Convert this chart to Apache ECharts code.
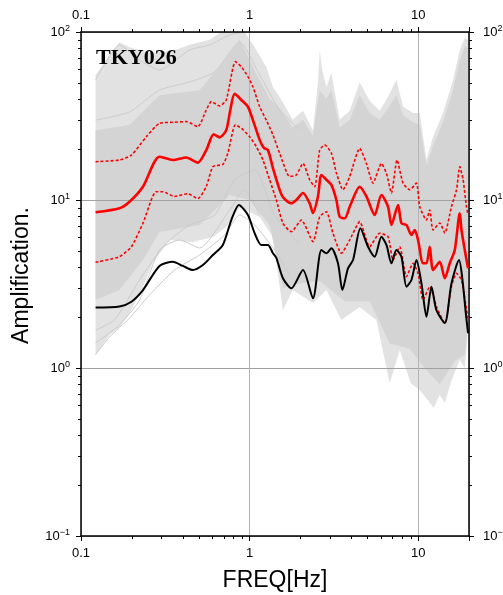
<!DOCTYPE html>
<html><head><meta charset="utf-8">
<script src="https://cdn.jsdelivr.net/npm/echarts@6/dist/echarts.min.js"></script>
<style>html,body{margin:0;padding:0;background:#fff}#c{width:503px;height:595px}</style>
</head><body><div id="c"></div>
<script>
const FONT = '"Liberation Sans", Arial, Helvetica, sans-serif';
const stationName = 'TKY026';
const xTitle = 'FREQ[Hz]';
const yTitle = 'Amplification.';
const xRange = [0.1, 20];
const yRange = [0.1, 100];
const xTickValues = [0.1, 1, 10];
const xTickLabels = ['0.1', '1', '10'];
const yTickValues = [0.1, 1, 10, 100];
const yTickExponents = ['\u22121', '0', '1', '2'];
const xMinorTicks = [0.2,0.3,0.4,0.5,0.6,0.7,0.8,0.9,2,3,4,5,6,7,8,9];
const yMinorTicks = [0.2,0.3,0.4,0.5,0.6,0.7,0.8,0.9,2,3,4,5,6,7,8,9,20,30,40,50,60,70,80,90];

// thick red: mean
const meanCurve = [[0.122,8.45],[0.169,8.93],[0.194,9.77],[0.233,12.0],[0.292,18.1],[0.351,17.3],[0.421,17.9],[0.493,16.7],[0.553,19.8],[0.612,24.6],[0.664,23.6],[0.727,26.1],[0.768,34.3],[0.815,42.8],[0.893,39.4],[0.977,35.9],[1.046,29.9],[1.147,22.8],[1.211,20.5],[1.284,19.8],[1.375,15.5],[1.507,11.5],[1.576,10.4],[1.768,9.56],[1.893,10.0],[2.072,11.0],[2.270,9.56],[2.375,8.37],[2.543,10.5],[2.664,14.1],[2.853,13.2],[3.054,12.3],[3.270,10.0],[3.421,7.95],[3.663,7.78],[3.922,9.12],[4.496,12.0],[4.927,10.5],[5.518,8.14],[6.047,10.7],[6.621,9.12],[6.934,7.10],[7.589,9.34],[7.951,7.27],[8.511,7.10],[9.112,6.19],[9.533,6.63],[9.972,5.78],[10.68,4.20],[11.19,4.20],[11.70,5.27],[12.24,3.83],[13.42,4.29],[14.37,3.42],[15.38,4.20],[16.47,5.04],[17.63,8.33],[18.05,6.63],[18.88,5.04],[19.75,3.92]];
// dotted red: mean + sigma
const upperCurve = [[0.122,16.9],[0.169,17.3],[0.199,18.5],[0.244,23.8],[0.292,28.6],[0.351,29.0],[0.421,29.3],[0.493,27.3],[0.553,34.3],[0.593,38.5],[0.664,36.3],[0.727,39.4],[0.823,66.6],[0.893,62.1],[0.977,54.2],[1.046,47.2],[1.147,35.9],[1.256,29.9],[1.375,24.4],[1.507,19.0],[1.727,13.8],[1.893,14.1],[2.072,16.5],[2.270,13.2],[2.431,12.0],[2.603,19.8],[2.787,21.3],[3.054,19.0],[3.270,14.5],[3.579,11.5],[3.922,13.8],[4.496,20.3],[4.927,16.5],[5.392,12.6],[6.047,16.5],[6.478,14.4],[6.934,11.0],[7.486,17.3],[8.127,12.6],[8.904,11.5],[9.757,12.6],[10.21,9.12],[11.19,7.60],[11.70,8.72],[12.24,6.63],[13.42,7.30],[14.37,6.36],[15.74,9.12],[16.86,11.5],[17.63,15.8],[18.45,13.2],[19.32,9.12],[19.75,8.14]];
// dotted red: mean - sigma
const lowerCurve = [[0.122,4.26],[0.169,4.60],[0.199,5.27],[0.233,7.27],[0.279,11.2],[0.306,11.2],[0.359,10.5],[0.430,10.9],[0.493,10.2],[0.553,12.0],[0.606,15.8],[0.694,16.3],[0.743,19.0],[0.823,28.0],[0.893,26.7],[1.0,23.8],[1.096,20.8],[1.199,17.3],[1.314,13.2],[1.440,10.0],[1.576,7.27],[1.768,6.48],[2.027,7.60],[2.375,5.65],[2.603,7.95],[2.853,8.52],[3.122,6.34],[3.501,4.82],[3.922,5.78],[4.496,7.43],[5.154,5.27],[5.908,6.34],[6.621,6.05],[7.088,4.39],[7.768,5.27],[8.511,3.50],[9.314,4.20],[9.972,3.66],[10.68,2.54],[11.70,3.05],[12.82,2.32],[14.37,1.85],[15.74,3.05],[16.86,3.66],[18.05,3.34],[19.75,1.93]];
// black curve
const blackCurve = [[0.122,2.29],[0.169,2.32],[0.199,2.48],[0.233,2.91],[0.292,4.05],[0.351,4.29],[0.402,4.05],[0.461,3.83],[0.528,4.10],[0.606,4.71],[0.694,5.40],[0.779,7.60],[0.864,9.34],[0.977,8.14],[1.071,6.34],[1.173,5.40],[1.284,5.40],[1.375,4.82],[1.440,4.52],[1.576,3.42],[1.768,2.98],[2.072,3.83],[2.375,2.60],[2.664,5.04],[2.853,4.82],[3.054,5.16],[3.342,4.20],[3.549,2.91],[3.832,3.92],[4.104,4.39],[4.539,6.78],[5.036,5.27],[5.518,4.60],[6.047,6.05],[6.478,5.40],[6.934,4.20],[7.425,5.04],[7.951,4.60],[8.511,3.05],[9.112,3.34],[9.757,4.39],[10.45,3.19],[11.19,2.02],[11.98,3.05],[12.82,2.21],[14.37,1.85],[15.74,3.19],[17.46,4.39],[18.30,3.34],[19.14,2.12],[19.75,1.61]];

// gray record bundle: outer envelope and dense core
const grayOuterUpper = [[0.122,55.5],[0.169,87],[0.194,81],[0.255,75],[0.359,78],[0.440,84],[0.579,90],[0.68,100],[0.82,100],[0.934,100],[1.071,81],[1.256,62],[1.375,47],[1.507,41],[1.800,30],[2.072,34],[2.375,26],[2.55,52],[2.603,78],[2.70,59],[2.853,47],[3.054,57],[3.421,30],[3.922,34],[4.496,50],[5.154,39],[5.908,34],[6.621,41],[7.425,52],[8.127,36],[9.314,33],[10.21,33],[11.19,17.3],[12.24,23.7],[14.04,33],[16.09,52],[17.63,78],[18.88,92],[19.75,90]];
const grayOuterLower = [[0.122,1.20],[0.1476,1.57],[0.169,1.75],[0.194,2.12],[0.233,3.03],[0.266,4.22],[0.335,5.78],[0.461,5.62],[0.606,6.03],[0.727,6.91],[0.872,9.09],[1.147,7.92],[1.375,6.03],[1.576,2.21],[1.800,2.91],[2.375,2.44],[2.853,2.91],[3.501,1.93],[4.496,2.31],[5.648,1.93],[6.776,0.81],[7.768,1.28],[9.03,0.81],[10.21,0.74],[12.36,0.58],[13.42,0.69],[14.37,0.62],[15.8,0.85],[17.63,1.12],[18.88,1.0],[19.75,1.68]];
const grayCoreUpper = [[0.122,26],[0.194,28],[0.292,42],[0.505,45],[0.7105,68],[0.8723,90],[1.071,59],[1.314,40],[1.507,35],[1.8,27],[2.072,30],[2.375,24],[2.6,45],[2.853,40],[3.054,45],[3.421,27],[3.922,30],[4.496,42],[5.154,33],[5.908,30],[6.621,35],[7.425,42],[8.127,32],[9.314,29],[10.21,28],[11.19,16],[12.24,21],[14.04,29],[16.09,45],[17.63,68],[18.88,82],[19.75,80]];
const grayCoreLower = [[0.122,2.54],[0.169,2.91],[0.233,4.39],[0.292,6.45],[0.505,7.10],[0.761,10.7],[1.0,10],[1.314,7.10],[1.576,3.0],[2.0,3.2],[2.6,3.3],[3.663,2.5],[5.154,2.5],[6.776,1.4],[8.9,1.3],[10.9,1.0],[13.42,0.8],[16.47,1.1],[18.88,1.2],[19.75,1.9]];
// a few individual gray records
const grayLineA = [[0.122,1.20],[0.1476,1.53],[0.194,1.98],[0.2549,2.72],[0.3588,3.83],[0.505,4.71],[0.7105,6.19],[0.8723,8.14],[1.071,7.10],[1.407,5.04],[1.727,3.58]];
const grayLineB = [[0.122,1.41],[0.169,1.80],[0.2224,2.54],[0.2922,5.04],[0.3842,5.78],[0.505,5.18],[0.761,8.72],[0.934,11.5],[1.147,8.14]];
const grayLineC = [[0.122,51.8],[0.169,83.7],[0.2224,68.1],[0.2922,59.4],[0.4404,78.1],[0.5789,83.7],[0.761,96],[0.934,100]];
const grayLineD = [[0.122,29.9],[0.194,33.4],[0.2922,45.1],[0.4404,50.4],[0.620,57.8],[0.8723,87.2],[1.147,55.5],[1.507,34.3],[1.981,26.1]];
const grayLineE = [[0.122,1.68],[0.158,1.93],[0.2224,3.34],[0.313,5.40],[0.4404,7.10],[0.620,8.14],[0.8147,13.2],[1.071,15.1],[1.407,8.14],[1.981,5.40]];
const grayLines = [grayLineA, grayLineB, grayLineC, grayLineD, grayLineE];

function majorIndex(list, v) {
  return list.findIndex(t => Math.abs(Math.log10(v) - Math.log10(t)) < 1e-6);
}
function xLabel(v) { const i = majorIndex(xTickValues, v); return i < 0 ? '' : xTickLabels[i]; }
function yLabel(v) { const i = majorIndex(yTickValues, v); return i < 0 ? '' : '{b|10}{s|' + yTickExponents[i] + '}'; }
const richY = {
  b: { fontSize: 13, fontFamily: FONT, color: '#000', lineHeight: 16 },
  s: { fontSize: 9, fontFamily: FONT, color: '#000', lineHeight: 16, padding: [0, 0, 7, 0] }
};

function bandSeries(upper, lower, color) {
  const poly = upper.concat(lower.slice().reverse());
  return {
    type: 'custom', z: 1, silent: true, animation: false, data: poly,
    renderItem(params, api) {
      if (params.dataIndex !== 0) return null;
      return { type: 'polygon', shape: { points: poly.map(p => api.coord(p)) }, style: { fill: color } };
    }
  };
}
function lineSeries(data, color, width, type, z, smooth) {
  return { type: 'line', data, symbol: 'none', showSymbol: false, smooth: smooth, z, silent: true, animation: false, clip: true,
    lineStyle: { color, width, type, cap: 'butt', join: 'round' } };
}
function tickSeries(values, dir) {
  return {
    type: 'custom', z: 6, silent: true, animation: false, clip: false,
    data: values.map(v => [v, v]),
    renderItem(params, api) {
      const cs = params.coordSys;
      const st = { stroke: '#000', lineWidth: 1 };
      const L = 3;
      if (dir === 'x') {
        const px = Math.round(api.coord([api.value(0), 1])[0]) + 0.5;
        const b = cs.y + cs.height, t = cs.y;
        return { type: 'group', children: [
          { type: 'line', shape: { x1: px, y1: b, x2: px, y2: b + L }, style: st },
          { type: 'line', shape: { x1: px, y1: t, x2: px, y2: t - L }, style: st } ] };
      } else {
        const py = Math.round(api.coord([1, api.value(1)])[1]) + 0.5;
        const l = cs.x, r = cs.x + cs.width;
        return { type: 'group', children: [
          { type: 'line', shape: { x1: l, y1: py, x2: l - L, y2: py }, style: st },
          { type: 'line', shape: { x1: r, y1: py, x2: r + L, y2: py }, style: st } ] };
      }
    }
  };
}

const axisLineStyle = { color: '#000', width: 1.5 };
const chart = echarts.init(document.getElementById('c'), null, { renderer: 'canvas' });
const series = [
  bandSeries(grayOuterUpper, grayOuterLower, '#e2e2e2'),
  bandSeries(grayCoreUpper, grayCoreLower, '#d4d4d4')
];
grayLines.forEach(g => series.push(lineSeries(g, '#cccccc', 1, 'solid', 1, 0.2)));
series.push(lineSeries(upperCurve, '#ff0000', 1.6, [3, 2], 3, 0.2));
series.push(lineSeries(lowerCurve, '#ff0000', 1.6, [3, 2], 3, 0.2));
series.push(lineSeries(blackCurve, '#000000', 2, 'solid', 3, 0.25));
series.push(lineSeries(meanCurve, '#ff0000', 2.6, 'solid', 4, 0.25));
series.push(tickSeries(xMinorTicks, 'x'));
series.push(tickSeries(yMinorTicks, 'y'));

chart.setOption({
  animation: false,
  backgroundColor: '#fff',
  grid: { left: 81, top: 32, width: 388, height: 504, containLabel: false, outerBoundsMode: 'none', show: false },
  xAxis: [
    { type: 'log', logBase: 10, min: xRange[0], max: xRange[1], position: 'bottom', z: 2,
      axisLine: { show: true, onZero: false, lineStyle: axisLineStyle },
      axisTick: { show: true, inside: false, length: 5, lineStyle: { color: '#000', width: 1 } },
      axisLabel: { formatter: xLabel, fontSize: 13, fontFamily: FONT, color: '#000', margin: 11 },
      splitLine: { show: true, lineStyle: { color: '#b4b4b4', width: 1 } },
      name: xTitle, nameLocation: 'middle', nameGap: 33,
      nameTextStyle: { fontSize: 23, fontFamily: FONT, color: '#000' } },
    { type: 'log', logBase: 10, min: xRange[0], max: xRange[1], position: 'top', z: 2,
      axisLine: { show: true, onZero: false, lineStyle: axisLineStyle },
      axisTick: { show: true, inside: false, length: 5, lineStyle: { color: '#000', width: 1 } },
      axisLabel: { formatter: xLabel, fontSize: 13, fontFamily: FONT, color: '#000', margin: 10 },
      splitLine: { show: false } }
  ],
  yAxis: [
    { type: 'log', logBase: 10, min: yRange[0], max: yRange[1], position: 'left', z: 2,
      axisLine: { show: true, onZero: false, lineStyle: axisLineStyle },
      axisTick: { show: true, inside: false, length: 5, lineStyle: { color: '#000', width: 1 } },
      axisLabel: { formatter: yLabel, rich: richY, margin: 11 },
      splitLine: { show: true, lineStyle: { color: '#a0a0a0', width: 1 } },
      name: yTitle, nameLocation: 'middle', nameGap: 48, nameRotate: 90,
      nameTextStyle: { fontSize: 23, fontFamily: FONT, color: '#000', padding: [0, 0, 0, 17] } },
    { type: 'log', logBase: 10, min: yRange[0], max: yRange[1], position: 'right', z: 2,
      axisLine: { show: true, onZero: false, lineStyle: axisLineStyle },
      axisTick: { show: true, inside: false, length: 5, lineStyle: { color: '#000', width: 1 } },
      axisLabel: { formatter: yLabel, rich: richY, margin: 14 },
      splitLine: { show: false } }
  ],
  graphic: [
    { type: 'text', left: 96, top: 47, z: 10, silent: true,
      style: { text: stationName, font: 'bold 22px "Liberation Serif", "Times New Roman", serif', fill: '#000' } }
  ],
  series
});
</script>
</body></html>
